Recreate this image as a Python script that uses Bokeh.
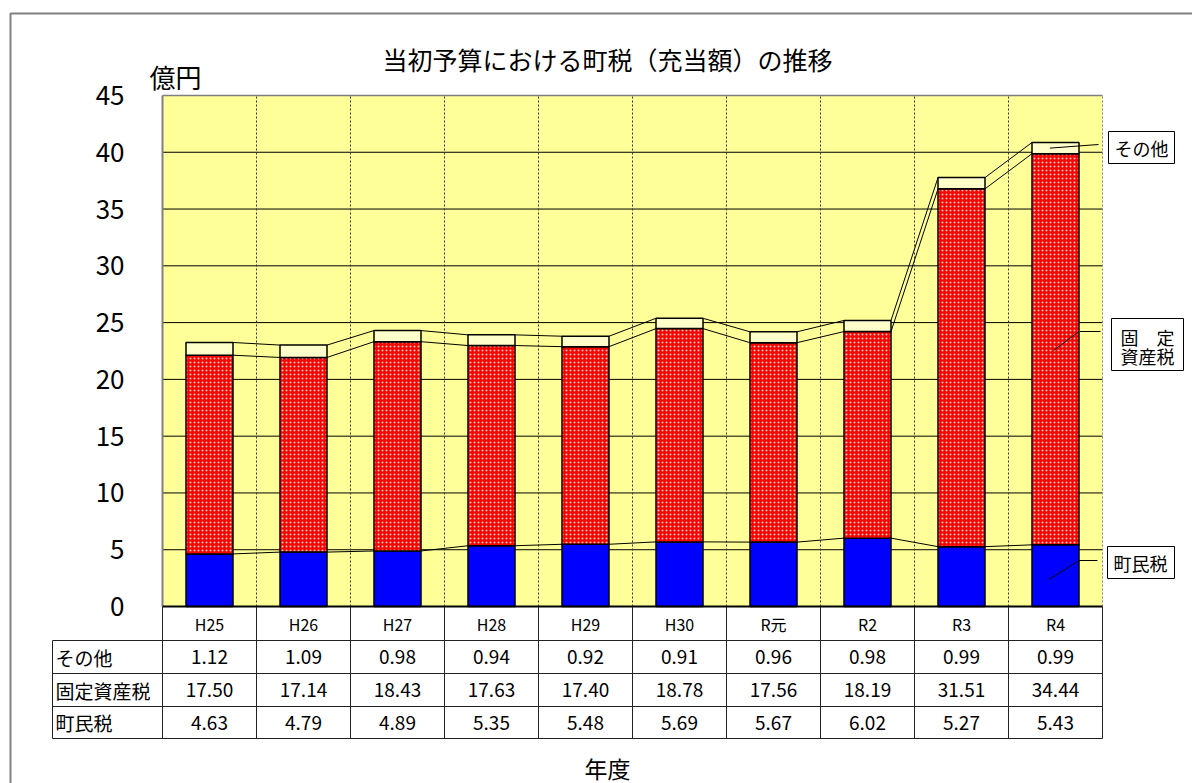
from bokeh.plotting import figure
from bokeh.models import Range1d
from bokeh.core.properties import value
from bokeh.embed import file_html
from bokeh.resources import INLINE

# ---------------- data ----------------
years = ["H25", "H26", "H27", "H28", "H29", "H30", "R元", "R2", "R3", "R4"]
other = [1.12, 1.09, 0.98, 0.94, 0.92, 0.91, 0.96, 0.98, 0.99, 0.99]        # その他
property_tax = [17.50, 17.14, 18.43, 17.63, 17.40, 18.78, 17.56, 18.19, 31.51, 34.44]  # 固定資産税
resident_tax = [4.63, 4.79, 4.89, 5.35, 5.48, 5.69, 5.67, 6.02, 5.27, 5.43]  # 町民税
row_labels = ["その他", "固定資産税", "町民税"]
y_ticks = [0, 5, 10, 15, 20, 25, 30, 35, 40, 45]
title_text = "当初予算における町税（充当額）の推移"
unit_text = "億円"
xlabel_text = "年度"

FONT = value("Noto Sans CJK JP")

# ---------------- layout (picture pixels -> data units) ----------------
PX_LEFT, PX_UNIT = 162.0, 94.0      # x of category 0 left edge, px per category
PY_ZERO, PY_UNIT = 606.0, 11.356    # y of value 0, px per unit
W, H = 1192, 783


def U(px):
    return (px - PX_LEFT) / PX_UNIT


def V(py):
    return (PY_ZERO - py) / PY_UNIT


n = len(years)
p = figure(width=W, height=H, output_backend="svg", toolbar_location=None,
           x_range=Range1d(U(0), U(W)), y_range=Range1d(V(H), V(0)),
           x_axis_location=None, y_axis_location=None, min_border=0)
p.outline_line_color = None
p.grid.visible = False
p.background_fill_color = "white"
p.border_fill_color = "white"

# outer frame (left and top edges visible)
p.line([U(10), U(10), U(1300)], [V(900), V(13), V(13)], line_color="#808080", line_width=2)

ymax = y_ticks[-1]
# plot background
p.quad(left=0, right=n, bottom=0, top=ymax, fill_color="#FFFF99", line_color=None)
# horizontal gridlines
p.segment(x0=[0] * (len(y_ticks) - 2), x1=[n] * (len(y_ticks) - 2),
          y0=y_ticks[1:-1], y1=y_ticks[1:-1], line_color="black", line_width=1)
# vertical dotted gridlines
p.segment(x0=list(range(1, n)), x1=list(range(1, n)), y0=[0] * (n - 1), y1=[ymax] * (n - 1),
          line_color="#333333", line_width=1, line_dash="2 2")
# plot borders
p.line([0, n], [ymax, ymax], line_color="#808080", line_width=1.5)
p.line([0, 0], [0, ymax], line_color="#808080", line_width=2)
p.line([n, n], [0, ymax], line_color="#808080", line_width=1, line_dash="2 2")

# stacked bars
xs = [i + 0.5 for i in range(n)]
c1 = resident_tax
c2 = [a + b for a, b in zip(resident_tax, property_tax)]
c3 = [a + b for a, b in zip(c2, other)]
bw = 0.5
p.vbar(x=xs, width=bw, bottom=0, top=c1, fill_color="#0000FF", line_color="black", line_width=1.5)
p.vbar(x=xs, width=bw, bottom=c1, top=c2, fill_color="#FF0000", line_color="black", line_width=1.5,
       hatch_pattern="dot", hatch_color="white", hatch_scale=4, hatch_weight=3, hatch_alpha=0.8)
p.vbar(x=xs, width=bw, bottom=c2, top=c3, fill_color="#FFFFCC", line_color="black", line_width=1.5)

# connector lines between bars
for lev in (c1, c2, c3):
    p.segment(x0=[xs[i] + bw / 2 for i in range(n - 1)], x1=[xs[i + 1] - bw / 2 for i in range(n - 1)],
              y0=lev[:-1], y1=lev[1:], line_color="black", line_width=1)

# x axis baseline
p.line([0, n], [0, 0], line_color="black", line_width=2)

# y tick labels
p.text(x=[U(124)] * len(y_ticks), y=y_ticks, text=[str(t) for t in y_ticks],
       text_font=FONT, text_font_size="26px", text_align="right", text_baseline="middle",
       text_color="black")
# unit label
p.text(x=[U(175)], y=[V(76)], text=[unit_text], text_font=FONT, text_font_size="26px",
       text_align="center", text_baseline="middle", text_color="black")
# title
p.text(x=[U(607)], y=[V(58)], text=[title_text], text_font=FONT, text_font_size="25px",
       text_align="center", text_baseline="middle", text_color="black")
# x label
p.text(x=[U(607)], y=[V(767)], text=[xlabel_text], text_font=FONT, text_font_size="23px",
       text_align="center", text_baseline="middle", text_color="black")

# ---------------- data table ----------------
row_edges = [V(606), V(640), V(673), V(706), V(738)]
lab_left = U(52)
# horizontal lines
p.segment(x0=[lab_left] * 4, x1=[n] * 4, y0=row_edges[1:], y1=row_edges[1:],
          line_color="#222222", line_width=1)
# vertical lines for category columns
p.segment(x0=list(range(0, n + 1)), x1=list(range(0, n + 1)),
          y0=[row_edges[0]] * (n + 1), y1=[row_edges[-1]] * (n + 1), line_color="#222222", line_width=1)
p.segment(x0=[lab_left], x1=[lab_left], y0=[row_edges[1]], y1=[row_edges[-1]],
          line_color="#222222", line_width=1)
# header
hy = (row_edges[0] + row_edges[1]) / 2
p.text(x=xs, y=[hy] * n, text=years, text_font=FONT, text_font_size="16px",
       text_align="center", text_baseline="middle", text_color="black")
rows = [other, property_tax, resident_tax]
for r, (lab, vals) in enumerate(zip(row_labels, rows)):
    ry = (row_edges[r + 1] + row_edges[r + 2]) / 2
    p.text(x=[U(55)], y=[ry], text=[lab], text_font=FONT, text_font_size="19px",
           text_align="left", text_baseline="middle", text_color="black")
    p.text(x=xs, y=[ry] * n, text=[f"{v:.2f}" for v in vals], text_font=FONT, text_font_size="19px",
           text_align="center", text_baseline="middle", text_color="black")

# ---------------- legend labels with leader lines ----------------
last = n - 1
bx = xs[last]
# その他
p.line([bx - 0.06, U(1098)], [c2[last] + other[last] / 2, V(144)], line_color="black", line_width=1)
p.quad(left=U(1108), right=U(1174), top=V(131), bottom=V(163), fill_color="white", line_color="black", line_width=1)
p.text(x=[U(1141)], y=[V(147)], text=["その他"], text_font=FONT, text_font_size="18px",
       text_align="center", text_baseline="middle", text_color="black")
# 固定資産税
p.line([bx + 0.25 + 0.01, U(1100)], [V(331), V(331)], line_color="black", line_width=1)
p.line([bx - 0.02, bx + 0.25], [V(350), V(331)], line_color="black", line_width=1)
p.quad(left=U(1111), right=U(1183), top=V(318), bottom=V(370), fill_color="white", line_color="black", line_width=1)
p.text(x=[U(1147)], y=[V(336)], text=["固　定"], text_font=FONT, text_font_size="18px",
       text_align="center", text_baseline="middle", text_color="black")
p.text(x=[U(1147)], y=[V(355)], text=["資産税"], text_font=FONT, text_font_size="18px",
       text_align="center", text_baseline="middle", text_color="black")
# 町民税
p.line([bx + 0.25, U(1097)], [V(560), V(560)], line_color="black", line_width=1)
p.line([bx - 0.07, bx + 0.25], [V(579), V(560)], line_color="black", line_width=1)
p.quad(left=U(1107), right=U(1174), top=V(546), bottom=V(578), fill_color="white", line_color="black", line_width=1)
p.text(x=[U(1140)], y=[V(562)], text=["町民税"], text_font=FONT, text_font_size="18px",
       text_align="center", text_baseline="middle", text_color="black")

open("out.html", "w").write(file_html(p, INLINE))
